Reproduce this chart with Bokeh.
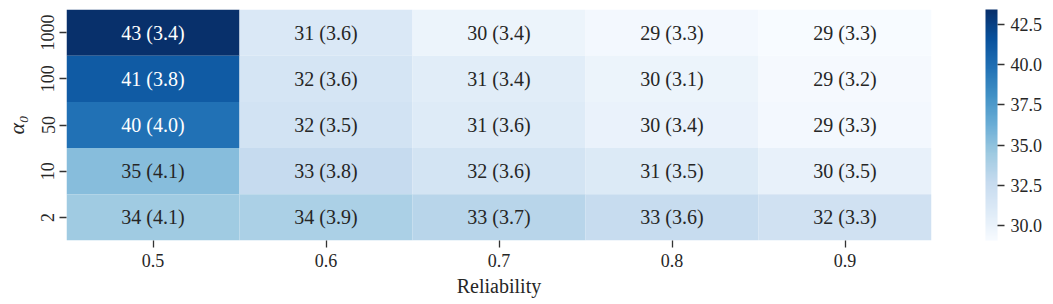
import numpy as np
from bokeh.plotting import figure
from bokeh.models import ColumnDataSource, LinearColorMapper, ColorBar, FixedTicker, PrintfTickFormatter
from bokeh.palettes import Blues256
from bokeh.embed import file_html
from bokeh.resources import INLINE
from bokeh.core.properties import value

reliability = ["0.5", "0.6", "0.7", "0.8", "0.9"]
alpha0 = ["1000", "100", "50", "10", "2"]  # top to bottom
mean_1000 = [43.4, 31.2, 29.9, 29.4, 29.1]
mean_100 = [41.0, 31.6, 30.7, 29.9, 29.3]
mean_50 = [39.8, 31.8, 30.9, 30.1, 29.4]
mean_10 = [35.3, 32.7, 31.7, 31.0, 30.2]
mean_2 = [34.4, 33.9, 33.3, 32.6, 32.0]
std_1000 = [3.4, 3.6, 3.4, 3.3, 3.3]
std_100 = [3.8, 3.6, 3.4, 3.1, 3.2]
std_50 = [4.0, 3.5, 3.6, 3.4, 3.3]
std_10 = [4.1, 3.8, 3.6, 3.5, 3.5]
std_2 = [4.1, 3.9, 3.7, 3.6, 3.3]
cbar_ticks = [30.0, 32.5, 35.0, 37.5, 40.0, 42.5]

means = [mean_1000, mean_100, mean_50, mean_10, mean_2]
stds = [std_1000, std_100, std_50, std_10, std_2]

palette = list(Blues256[::-1])
allv = [v for r in means for v in r]
lo, hi = min(allv), max(allv)
mapper = LinearColorMapper(palette=palette, low=lo, high=hi)

def lum(hexc):
    rgb = [int(hexc[i:i + 2], 16) / 255 for i in (1, 3, 5)]
    rgb = [c / 12.92 if c <= 0.03928 else ((c + 0.055) / 1.055) ** 2.4 for c in rgb]
    return 0.2126 * rgb[0] + 0.7152 * rgb[1] + 0.0722 * rgb[2]

xs, ys, vals, labels, tcols = [], [], [], [], []
for a, mrow, srow in zip(alpha0, means, stds):
    for r, m, s in zip(reliability, mrow, srow):
        xs.append(r); ys.append(a); vals.append(m)
        labels.append(f"{m:.0f} ({s:.1f})")
        idx = int(round((m - lo) / (hi - lo) * (len(palette) - 1)))
        tcols.append("#262626" if lum(palette[idx]) > 0.408 else "#ffffff")

src = ColumnDataSource(dict(x=xs, y=ys, v=vals, label=labels, tc=tcols))

FONT = "Liberation Serif"
p = figure(width=1045, height=302, x_range=reliability, y_range=alpha0[::-1],
           output_backend="svg", toolbar_location=None, tools="")
p.min_border_left = 64
p.min_border_top = 9
p.min_border_bottom = 62
p.min_border_right = 113
p.outline_line_color = None
p.grid.visible = False

p.rect(x="x", y="y", width=1, height=1, source=src,
       fill_color={"field": "v", "transform": mapper}, line_color=None)
p.text(x="x", y="y", text="label", source=src, text_color="tc",
       text_align="center", text_baseline="middle", text_font=value(FONT),
       text_font_size="20px")

for ax in (p.xaxis[0], p.yaxis[0]):
    ax.axis_line_color = None
    ax.major_tick_line_color = "#333333"
    ax.major_tick_line_width = 1.3
    ax.major_tick_out = 7
    ax.major_tick_in = 0
    ax.minor_tick_line_color = None
    ax.major_label_text_font = FONT
    ax.major_label_text_font_size = "18px"
    ax.major_label_text_color = "#262626"
    ax.axis_label_text_font = FONT
    ax.axis_label_text_font_style = "normal"
    ax.axis_label_text_color = "#262626"

p.xaxis.major_label_standoff = 6
p.yaxis.major_label_standoff = 5
p.xaxis.axis_label = "Reliability"
p.xaxis.axis_label_text_font_size = "20px"
p.xaxis.axis_label_standoff = 5
p.yaxis.axis_label = "α₀"
p.yaxis.axis_label_text_font_size = "22px"
p.yaxis.axis_label_text_font_style = "italic"
p.yaxis.axis_label_standoff = 10
p.yaxis.major_label_orientation = "vertical"

cb = ColorBar(color_mapper=mapper, width=12, padding=0, margin=0,
              location=(54, 0), ticker=FixedTicker(ticks=cbar_ticks),
              formatter=PrintfTickFormatter(format="%.1f"),
              major_label_text_font=FONT, major_label_text_font_size="18px",
              major_label_text_color="#262626",
              major_tick_out=7, major_tick_in=0, major_tick_line_color="#333333",
              major_tick_line_width=1.3, bar_line_color=None,
              label_standoff=6, background_fill_color=None, border_line_color=None)
p.add_layout(cb, "right")

open("out.html", "w").write(file_html(p, INLINE))
